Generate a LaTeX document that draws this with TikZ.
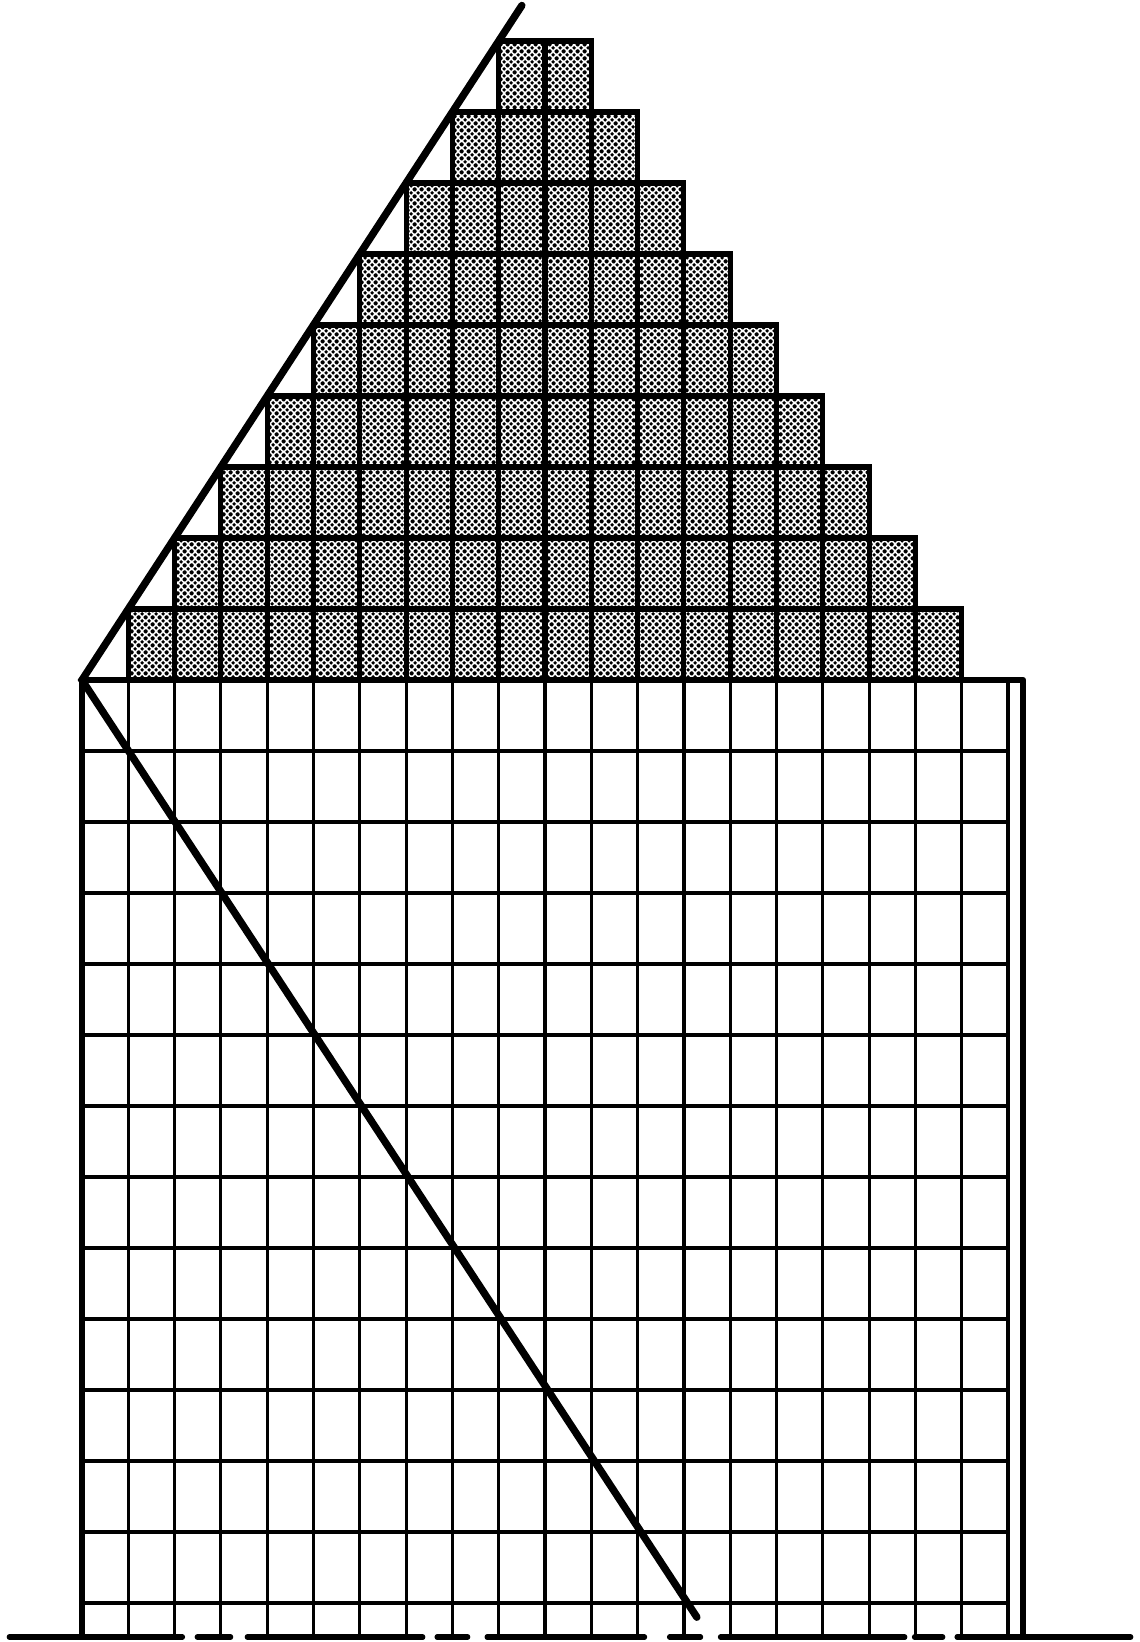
\documentclass[tikz,border=0pt]{standalone}
\usetikzlibrary{patterns}
\pgfdeclarepatternformonly{halftone}{\pgfpointorigin}{\pgfpoint{3.75pt}{3.75pt}}{\pgfpoint{3.75pt}{3.75pt}}{
  \pgfpathcircle{\pgfpoint{1.875pt}{1.875pt}}{1.15pt}
  \pgfpathcircle{\pgfpoint{0pt}{0pt}}{1.15pt}
  \pgfpathcircle{\pgfpoint{3.75pt}{0pt}}{1.15pt}
  \pgfpathcircle{\pgfpoint{0pt}{3.75pt}}{1.15pt}
  \pgfpathcircle{\pgfpoint{3.75pt}{3.75pt}}{1.15pt}
  \pgfusepath{fill}}
\tikzstyle{gridline} = [line width=1.8pt]
\tikzstyle{blockline} = [line width=2.9pt]
\tikzstyle{rimline} = [line width=3.8pt, line join=round]
\tikzstyle{diagline} = [line width=4.2pt, line cap=round]
\tikzstyle{ground} = [line width=3pt, line cap=round]

\begin{document}
\begin{tikzpicture}[x=0.926cm, y=1.42cm]
        \useasboundingbox (-1.771,-13.549) rectangle (22.829,9.577);
        % shaded staircase
        \foreach \k in {1,...,9}
          \fill[pattern=halftone] (\k,\k-1) rectangle (20-\k,\k);
        \foreach \k in {1,...,9}{
          \pgfmathtruncatemacro{\last}{19-\k}
          \foreach \i in {\k,...,\last}
            \draw[blockline] (\i,\k-1) rectangle +(1,1);
        }
        % lower grid
        \foreach \i in {1,...,20}
          \draw[gridline] (\i,0) -- (\i,-13.48);
        \foreach \j in {1,...,13}
          \draw[gridline] (0,-\j) -- (20,-\j);
        \coordinate (apex) at (0,0);
        \coordinate (peak) at (9.5,9.5);
        \coordinate (foot) at (13.28,-13.2);
        \coordinate (corner) at (20.32,0);
        \coordinate (low left) at (0,-13.48);
        \coordinate (low right) at (20.32,-13.48);
        \draw[rimline] (low left) -- (apex) -- (corner) -- (low right);
        \draw[diagline] (peak) -- (apex) -- (foot);
        % broken ground line
        \foreach \a/\b in {-1.57/2.17, 2.49/3.21, 3.57/7.36, 7.67/8.33, 8.75/12.15,
                           12.69/13.36, 13.79/17.77, 17.98/18.59, 18.9/22.65}
          \draw[ground] (\a,-13.48) -- (\b,-13.48);
      \end{tikzpicture}
\end{document}
